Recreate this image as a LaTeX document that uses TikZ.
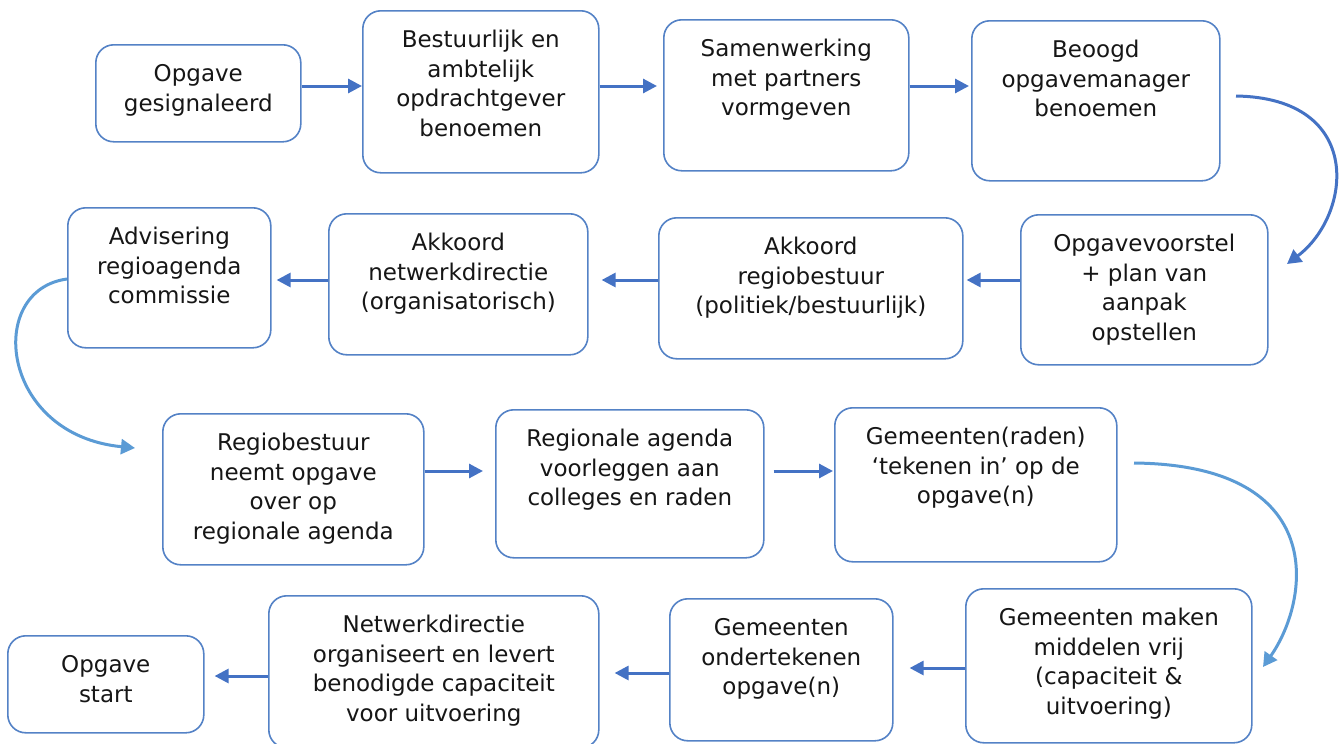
\documentclass[tikz,border=0pt]{standalone}
\usepackage{fontspec}
\setmainfont{DejaVu Sans}
\usetikzlibrary{arrows.meta}

\definecolor{rand}{RGB}{84,130,198}
\definecolor{pijlblauw}{RGB}{68,114,196}
\definecolor{lichtblauw}{RGB}{91,155,213}
\definecolor{tekstkleur}{RGB}{22,22,22}

% kader: breedte, hoogte, tekst (tekst bovenaan)
\newcommand{\kader}[3]{\parbox[c][#2pt][t]{#1pt}{\centering\rule{0pt}{37pt}#3}}

\tikzset{
    stap/.style={draw=rand, line width=1.6pt, rounded corners=18pt, fill=white,
        anchor=north west, inner sep=0pt, text=tekstkleur,
        font=\fontsize{23}{29.5}\selectfont},
    pijl/.style={draw=pijlblauw, line width=3pt, -{Triangle[length=14pt,width=14pt]}},
    boog/.style={line width=3pt, -{Triangle[length=14pt,width=15pt]}}
}

\begin{document}
\begin{tikzpicture}[x=1pt, y=-1pt]
        \useasboundingbox ( 0, 0 ) rectangle ( 1344, 744 );

        \def \ya {86};
        \def \yb {280};
        \def \yc {471};

        % rij 1
        \node [stap] (b1) at ( 95, 44 ) {\kader{205}{97}{Opgave\\gesignaleerd}};
        \node [stap] (b2) at ( 362, 10 ) {\kader{236}{162}{Bestuurlijk en\\ambtelijk\\opdrachtgever\\benoemen}};
        \node [stap] (b3) at ( 663, 19 ) {\kader{245}{151}{Samenwerking\\met partners\\vormgeven}};
        \node [stap] (b4) at ( 971, 20 ) {\kader{248}{160}{Beoogd\\opgavemanager\\benoemen}};

        % rij 2
        \node [stap] (b5) at ( 1020, 214 ) {\kader{247}{150}{Opgavevoorstel\\+ plan van\\aanpak\\opstellen}};
        \node [stap] (b6) at ( 658, 217 ) {\kader{304}{141}{Akkoord\\regiobestuur\\(politiek/bestuurlijk)}};
        \node [stap] (b7) at ( 328, 213 ) {\kader{259}{141}{Akkoord\\netwerkdirectie\\(organisatorisch)}};
        \node [stap] (b8) at ( 67, 207 ) {\kader{203}{140}{Advisering\\regioagenda\\commissie}};

        % rij 3
        \node [stap] (b9) at ( 162, 413 ) {\kader{261}{151}{Regiobestuur\\neemt opgave\\over op\\regionale agenda}};
        \node [stap] (b10) at ( 495, 409 ) {\kader{268}{148}{Regionale agenda\\voorleggen aan\\colleges en raden}};
        \node [stap] (b11) at ( 834, 407 ) {\kader{282}{154}{Gemeenten(raden)\\‘tekenen in’ op de\\opgave(n)}};

        % rij 4
        \node [stap] (b12) at ( 965, 588 ) {\kader{286}{154}{Gemeenten maken\\middelen vrij\\(capaciteit \&\\uitvoering)}};
        \node [stap] (b13) at ( 669, 598 ) {\kader{223}{142}{Gemeenten\\ondertekenen\\opgave(n)}};
        \node [stap] (b14) at ( 268, 595 ) {\kader{330}{152}{Netwerkdirectie\\organiseert en levert\\benodigde capaciteit\\voor uitvoering}};
        \node [stap] (b15) at ( 7, 635 ) {\kader{196}{97}{Opgave\\start}};

        % pijlen
        \draw [pijl] ( b1.east |- 0,\ya ) -- ( b2.west |- 0,\ya );
        \draw [pijl, shorten >=6pt] ( b2.east |- 0,\ya ) -- ( b3.west |- 0,\ya );
        \draw [pijl, shorten >=2pt] ( b3.east |- 0,\ya ) -- ( b4.west |- 0,\ya );
        \draw [pijl, shorten >=3pt] ( b5.west |- 0,\yb ) -- ( b6.east |- 0,\yb );
        \draw [pijl, shorten >=13pt] ( b6.west |- 0,\yb ) -- ( b7.east |- 0,\yb );
        \draw [pijl, shorten >=5pt] ( b7.west |- 0,\yb ) -- ( b8.east |- 0,\yb );
        \draw [pijl, shorten >=12pt] ( b9.east |- 0,\yc ) -- ( b10.west |- 0,\yc );
        \draw [pijl, shorten <=9pt, shorten >=1pt] ( b10.east |- 0,\yc ) -- ( b11.west |- 0,\yc );
        \draw [pijl, shorten >=16pt] ( b12.west |- 0,668 ) -- ( b13.east |- 0,668 );
        \draw [pijl, shorten >=15pt] ( b13.west |- 0,673 ) -- ( b14.east |- 0,673 );
        \draw [pijl, shorten >=10pt] ( b14.west |- 0,676 ) -- ( b15.east |- 0,676 );

        % bogen
        \coordinate (k1) at ( 1236, 96 );
        \coordinate (k1e) at ( 1287, 264 );
        \coordinate (k2e) at ( 135, 448 );
        \coordinate (k3) at ( 1134, 463 );
        \coordinate (k3e) at ( 1263, 667 );
        \draw [boog, pijlblauw] (k1) .. controls ( 1365, 98 ) and ( 1352, 215 ) .. (k1e);
        \draw [boog, lichtblauw] ( b8.west |- 0,279 ) .. controls ( -15, 290 ) and ( 0, 435 ) .. (k2e);
        \draw [boog, lichtblauw] (k3) .. controls ( 1330, 465 ) and ( 1310, 600 ) .. (k3e);
\end{tikzpicture}
\end{document}
